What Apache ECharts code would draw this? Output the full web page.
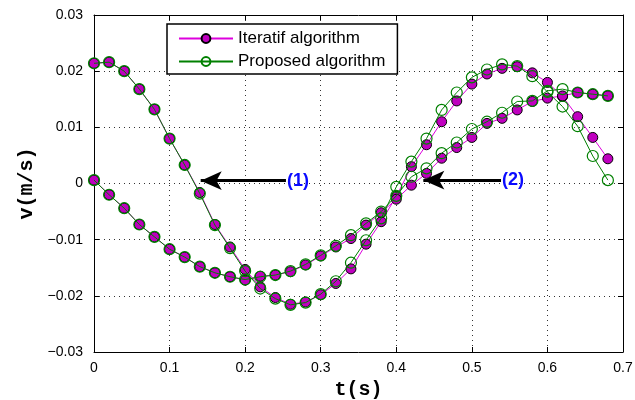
<!DOCTYPE html>
<html>
<head>
<meta charset="utf-8">
<script src="https://cdn.jsdelivr.net/npm/echarts@6/dist/echarts.min.js"></script>
<style>
  html, body { margin: 0; padding: 0; background: #fff; }
  #chart { width: 635px; height: 400px; }
</style>
</head>
<body>
<div id="chart"></div>
<script>
// Sample instants (s)
const timeS = [0, 0.02, 0.04, 0.06, 0.08, 0.10, 0.12, 0.14, 0.16, 0.18,
               0.20, 0.22, 0.24, 0.26, 0.28, 0.30, 0.32, 0.34, 0.36, 0.38,
               0.40, 0.42, 0.44, 0.46, 0.48, 0.50, 0.52, 0.54, 0.56, 0.58,
               0.60, 0.62, 0.64, 0.66, 0.68];

// Velocity (m/s), branch starting high — iterative algorithm
const iteratifHigh = [0.0214, 0.0216, 0.0200, 0.0168, 0.0132, 0.0080, 0.0033, -0.0016, -0.0073, -0.0113,
                      -0.0153, -0.0184, -0.0203, -0.0215, -0.0211, -0.0198, -0.0178, -0.0152, -0.0108, -0.0068,
                      -0.0023, 0.0030, 0.0069, 0.0110, 0.0147, 0.0177, 0.0195, 0.0205, 0.0208, 0.0197,
                      0.0180, 0.0155, 0.0119, 0.0082, 0.0044];
// Velocity (m/s), branch starting near zero — iterative algorithm
const iteratifLow = [0.0006, -0.0020, -0.0044, -0.0073, -0.0095, -0.0117, -0.0131, -0.0148, -0.0159, -0.0166,
                     -0.0172, -0.0165, -0.0163, -0.0157, -0.0145, -0.0129, -0.0113, -0.0098, -0.0074, -0.0052,
                     -0.0028, -0.0003, 0.0018, 0.0045, 0.0064, 0.0082, 0.0107, 0.0116, 0.0131, 0.0146,
                     0.0152, 0.0156, 0.0162, 0.0159, 0.0156];
// Same two branches — proposed algorithm
const proposedHigh = [0.0214, 0.0216, 0.0200, 0.0168, 0.0132, 0.0080, 0.0033, -0.0018, -0.0074, -0.0115,
                      -0.0156, -0.0187, -0.0205, -0.0216, -0.0212, -0.0197, -0.0174, -0.0141, -0.0101, -0.0062,
                      -0.0006, 0.0039, 0.0080, 0.0131, 0.0162, 0.0189, 0.0203, 0.0212, 0.0209, 0.0191,
                      0.0163, 0.0137, 0.0102, 0.0049, 0.0006];
const proposedLow = [0.0006, -0.0020, -0.0044, -0.0073, -0.0095, -0.0117, -0.0131, -0.0148, -0.0159, -0.0166,
                     -0.0171, -0.0166, -0.0163, -0.0156, -0.0144, -0.0128, -0.0111, -0.0092, -0.0071, -0.0050,
                     -0.0022, 0.0012, 0.0027, 0.0054, 0.0073, 0.0097, 0.0110, 0.0126, 0.0146, 0.0147,
                     0.0165, 0.0168, 0.0162, 0.0159, 0.0156];

const seriesNames = ['Iteratif algorithm', 'Proposed algorithm'];
const xTickLabels = ['0', '0.1', '0.2', '0.3', '0.4', '0.5', '0.6', '0.7'];
const yTickLabels = ['\u22120.03', '\u22120.02', '\u22120.01', '0', '0.01', '0.02', '0.03'];

// Arrow annotations: label, tail (label side) and tip, in data units
const arrowNotes = [
  { label: '(1)', tail: [0.254, 0.0005], tip: [0.1412, 0.0005] },
  { label: '(2)', tail: [0.5386, 0.0006], tip: [0.4358, 0.0006] }
];

const pairs = (ys) => timeS.map((t, i) => [t, ys[i]]);

const sansFont = '"Liberation Sans", Arial, sans-serif';
const monoFont = '"Liberation Mono", "Courier New", monospace';

const iteratifStyle = {
  type: 'line',
  name: seriesNames[0],
  symbol: 'circle',
  symbolSize: 10,
  showAllSymbol: true,
  lineStyle: { color: '#dd00dd', width: 1 },
  itemStyle: { color: '#bf00bf', borderColor: '#000', borderWidth: 1 },
  emphasis: { disabled: true },
  z: 2
};
const proposedStyle = {
  type: 'line',
  name: seriesNames[1],
  symbol: 'circle',
  symbolSize: 11,
  showAllSymbol: true,
  lineStyle: { color: '#008000', width: 1 },
  itemStyle: { color: 'rgba(0,0,0,0)', borderColor: '#008000', borderWidth: 1.2 },
  emphasis: { disabled: true },
  z: 3
};

const frameAxis = {
  axisLine: { show: true, onZero: false, lineStyle: { color: '#000', width: 1 } },
  axisTick: { show: true, inside: true, length: 5, lineStyle: { color: '#000' } },
  splitLine: { show: false },
  axisLabel: { show: false }
};

const gridDots = { show: true, lineStyle: { color: '#333', width: 1, type: [1, 4] } };

const chart = echarts.init(document.getElementById('chart'), null, { renderer: 'canvas' });
chart.setOption({
  animation: false,
  backgroundColor: '#fff',
  grid: { left: 94, right: 12, top: 15, bottom: 48, containLabel: false, outerBoundsMode: 'none' },
  legend: {
    data: seriesNames,
    orient: 'vertical',
    left: 167,
    top: 24,
    itemWidth: 54,
    itemHeight: 11,
    itemGap: 6,
    padding: [6, 12, 4, 11],
    backgroundColor: '#fff',
    borderColor: '#000',
    borderWidth: 1.5,
    textStyle: { fontFamily: sansFont, fontSize: 17, color: '#000' },
    selectedMode: false
  },
  xAxis: [
    {
      type: 'value', min: 0, max: 0.7, interval: 0.1, position: 'bottom',
      name: 't(s)', nameLocation: 'middle', nameGap: 26,
      nameTextStyle: { fontFamily: monoFont, fontWeight: 'bold', fontSize: 20, color: '#000' },
      axisLine: { show: true, onZero: false, lineStyle: { color: '#000', width: 1 } },
      axisTick: { show: true, inside: true, length: 5, lineStyle: { color: '#000' } },
      axisLabel: {
        margin: 9, fontFamily: sansFont, fontSize: 14, color: '#000',
        formatter: (v, i) => xTickLabels[i]
      },
      splitLine: gridDots
    },
    Object.assign({ type: 'value', min: 0, max: 0.7, interval: 0.1, position: 'top' }, frameAxis)
  ],
  yAxis: [
    {
      type: 'value', min: -0.03, max: 0.03, interval: 0.01, position: 'left',
      name: 'v(m/s)', nameLocation: 'middle', nameGap: 50, nameRotate: 90,
      nameTextStyle: { fontFamily: monoFont, fontWeight: 'bold', fontSize: 20, color: '#000' },
      axisLine: { show: true, onZero: false, lineStyle: { color: '#000', width: 1 } },
      axisTick: { show: true, inside: true, length: 5, lineStyle: { color: '#000' } },
      axisLabel: {
        margin: 11, fontFamily: sansFont, fontSize: 14, color: '#000',
        formatter: (v, i) => yTickLabels[i]
      },
      splitLine: gridDots
    },
    Object.assign({ type: 'value', min: -0.03, max: 0.03, interval: 0.01, position: 'right' }, frameAxis)
  ],
  series: [
    Object.assign({}, iteratifStyle, {
      data: pairs(iteratifHigh),
      markLine: {
        silent: true,
        symbol: ['none', 'arrow'],
        symbolSize: [14, 21],
        lineStyle: { color: '#000', width: 3, type: 'solid' },
        label: {
          show: true, position: 'start', distance: 1, formatter: '{b}',
          color: '#0a0aff', fontFamily: sansFont, fontWeight: 'bold', fontSize: 18
        },
        data: arrowNotes.map(a => [
          { coord: a.tail, name: a.label },
          { coord: a.tip }
        ])
      }
    }),
    Object.assign({}, iteratifStyle, { data: pairs(iteratifLow) }),
    Object.assign({}, proposedStyle, { data: pairs(proposedHigh) }),
    Object.assign({}, proposedStyle, { data: pairs(proposedLow) })
  ]
});
</script>
</body>
</html>
